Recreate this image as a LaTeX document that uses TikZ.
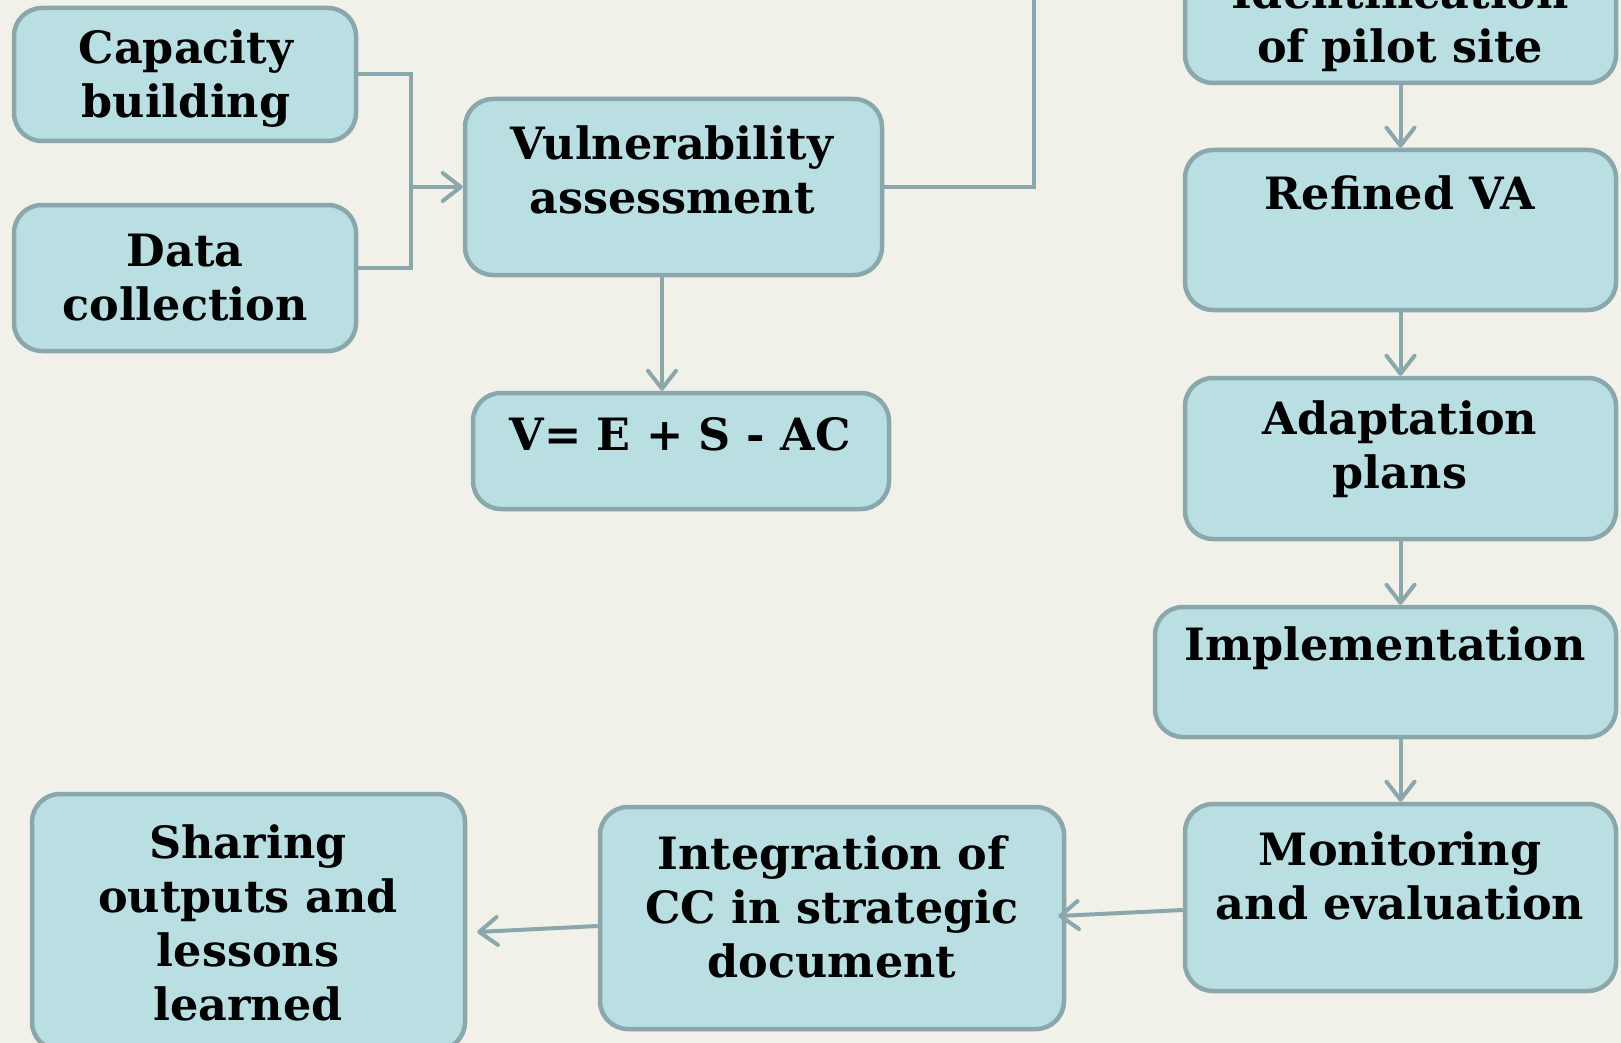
\documentclass[tikz,border=0pt]{standalone}
\usepackage{fontspec}
\setmainfont{DejaVu Serif}
\usetikzlibrary{arrows.meta}
\definecolor{bg}{HTML}{F2F1E9}
\definecolor{boxfill}{HTML}{B9DFE3}
\definecolor{boxline}{HTML}{8AA7AB}
\begin{document}
\begin{tikzpicture}[x=1pt,y=-1pt,
 box/.style={draw=boxline, fill=boxfill, line width=4.5pt, rounded corners=28pt, inner sep=0pt},
 txt/.style={font=\fontsize{44.5}{54}\selectfont\bfseries, align=center, inner sep=0pt},
 conn/.style={draw=boxline, line width=4pt},
 arr/.style={conn, -{Straight Barb[length=18pt,width=28pt,line cap=round,line join=round]}}]
\useasboundingbox (0,0) rectangle (1621,1043);
\clip (0,0) rectangle (1621,1043);
\fill[bg] (0,0) rectangle (1621,1043);
% boxes
\node[box, minimum width=342pt, minimum height=133pt] (cap) at (185,74.5) {};
\node[box, minimum width=342pt, minimum height=146pt] (data) at (185,278) {};
\node[box, minimum width=417pt, minimum height=176pt] (va) at (673.5,187) {};
\node[box, minimum width=416pt, minimum height=116pt] (veq) at (681,451) {};
\node[box, minimum width=431pt, minimum height=161pt] (ident) at (1400.5,2.5) {};
\node[box, minimum width=431pt, minimum height=160pt] (refined) at (1400.5,230) {};
\node[box, minimum width=431pt, minimum height=161pt] (adapt) at (1400.5,458.5) {};
\node[box, minimum width=461pt, minimum height=130pt] (impl) at (1385.5,672) {};
\node[box, minimum width=431pt, minimum height=187pt] (mon) at (1400.5,897.5) {};
\node[box, minimum width=464pt, minimum height=222pt] (integ) at (832,918) {};
\node[box, minimum width=433pt, minimum height=256pt] (share) at (248.5,922) {};
% texts
\node[txt] (tcap) at (186,79) {Capacity\\building};
\node[txt] (tdata) at (185,278) {Data\\collection};
\node[txt] (tva) at (672,170) {Vulnerability\\assessment};
\node[txt] (tveq) at (680,434) {V= E + S - AC};
\node[txt] (tident) at (1400,23) {Identification\\of pilot site};
\node[txt] (trefined) at (1400,193) {Refined VA};
\node[txt] (tadapt) at (1400,449) {Adaptation\\plans};
\node[txt] (timpl) at (1385,648) {Implementation};
\node[txt] (tmon) at (1400,876) {Monitoring\\and evaluation};
\node[txt] (tinteg) at (832,907) {Integration of\\CC in strategic\\document};
\node[txt] (tshare) at (248,923) {Sharing\\outputs and\\lessons\\learned};
% connectors
\coordinate (jx) at (411,187);
\coordinate (topend) at (1034,-10);
\draw[conn] (cap.east) -| (jx) |- ([yshift=10pt]data.east);
\draw[arr] (jx) -- (va.west);
\draw[conn] (va.east) -| (topend);
\draw[arr] ([xshift=-11.5pt]va.south) -- ([xshift=-11.5pt]va.south |- veq.north);
\draw[arr] (ident.south) -- (refined.north);
\draw[arr] (refined.south) -- (adapt.north);
\draw[arr] (adapt.south) -- (adapt.south |- impl.north);
\draw[arr] (mon.north |- impl.south) -- (mon.north);
\draw[arr] ([yshift=-12.5pt]mon.west) -- ([xshift=-8pt,yshift=2pt]integ.east);
\draw[arr] ([yshift=-8pt]integ.west) -- ([xshift=10pt,yshift=-10pt]share.east);
\end{tikzpicture}
\end{document}
